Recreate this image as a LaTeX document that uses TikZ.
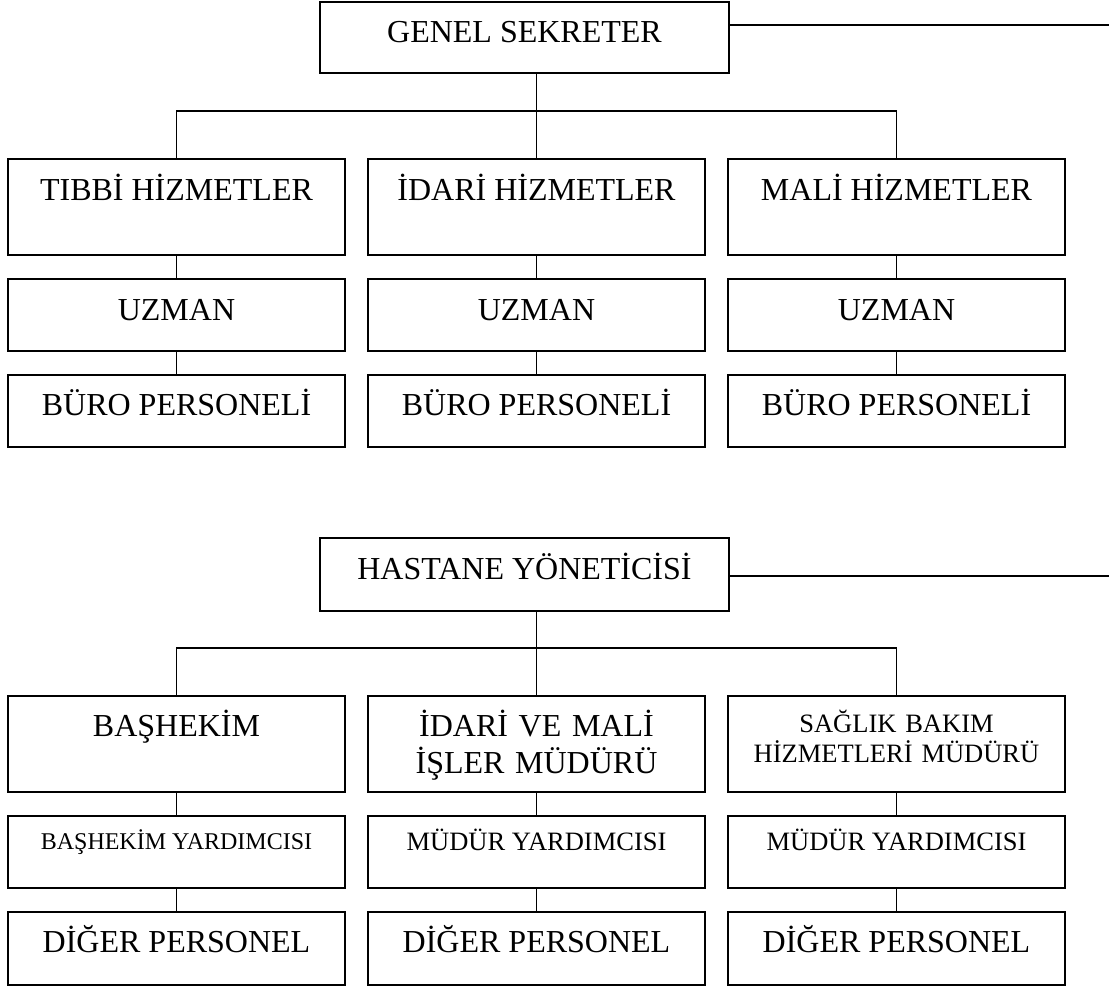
\documentclass[tikz,border=0pt]{standalone}
\usepackage{fontspec}
\setmainfont{Liberation Serif}
\begin{document}
\begin{tikzpicture}[x=1pt, y=-1pt,
  orgbox/.style={draw, line width=2pt, inner sep=0pt, minimum width=337pt},
  topbox/.style={draw, line width=2pt, inner sep=0pt, minimum width=409pt},
  link/.style={line width=1.6pt},
  big/.style={inner sep=0pt, anchor=base, font=\fontsize{32}{37}\selectfont},
  mid/.style={inner sep=0pt, anchor=base, font=\fontsize{26.5}{30}\selectfont},
  small/.style={inner sep=0pt, anchor=base, font=\fontsize{24}{28}\selectfont},
  two/.style={text width=335pt, align=center}]
\useasboundingbox (0,0) rectangle (1109,986);

% ---------- Genel Sekreter ----------
\node[topbox, minimum height=71pt] (gs) at (524.5,37.5) {};
\node[big] (gst) at (524.5,42) {GENEL SEKRETER};
\coordinate (gsR) at (1109,25);

\node[orgbox, minimum height=96pt] (a1) at (176.5,207) {};
\node[orgbox, minimum height=96pt] (a2) at (536.5,207) {};
\node[orgbox, minimum height=96pt] (a3) at (896.5,207) {};
\node[orgbox, minimum height=72pt] (b1) at (176.5,315) {};
\node[orgbox, minimum height=72pt] (b2) at (536.5,315) {};
\node[orgbox, minimum height=72pt] (b3) at (896.5,315) {};
\node[orgbox, minimum height=72pt] (c1) at (176.5,411) {};
\node[orgbox, minimum height=72pt] (c2) at (536.5,411) {};
\node[orgbox, minimum height=72pt] (c3) at (896.5,411) {};

\node[big] (a1t) at (176.5,200) {TIBBİ HİZMETLER};
\node[big] (a2t) at (536.5,200) {İDARİ HİZMETLER};
\node[big] (a3t) at (896.5,200) {MALİ HİZMETLER};
\node[big] (b1t) at (176.5,320) {UZMAN};
\node[big] (b2t) at (536.5,320) {UZMAN};
\node[big] (b3t) at (896.5,320) {UZMAN};
\node[big] (c1t) at (176.5,415) {BÜRO PERSONELİ};
\node[big] (c2t) at (536.5,415) {BÜRO PERSONELİ};
\node[big] (c3t) at (896.5,415) {BÜRO PERSONELİ};

\coordinate (gsbar) at (0,111);
\draw[line width=1.8pt] (gs.east |- gsR) -- (gsR);
\draw[link] (a2.north |- gs.south) -- (a2.north);
\draw[link] (a1.north) -- (a1.north |- gsbar) -- (a3.north |- gsbar) -- (a3.north);
\foreach \k in {1,2,3} {
  \draw[link] (a\k.south) -- (b\k.north);
  \draw[link] (b\k.south) -- (c\k.north);
}

% ---------- Hastane Yöneticisi ----------
\node[topbox, minimum height=73pt] (hy) at (524.5,574.5) {};
\node[big] (hyt) at (524.5,579) {HASTANE YÖNETİCİSİ};
\coordinate (hyR) at (1109,576);

\node[orgbox, minimum height=96pt] (d1) at (176.5,744) {};
\node[orgbox, minimum height=96pt] (d2) at (536.5,744) {};
\node[orgbox, minimum height=96pt] (d3) at (896.5,744) {};
\node[orgbox, minimum height=72pt] (e1) at (176.5,852) {};
\node[orgbox, minimum height=72pt] (e2) at (536.5,852) {};
\node[orgbox, minimum height=72pt] (e3) at (896.5,852) {};
\node[orgbox, minimum height=73pt] (f1) at (176.5,948.5) {};
\node[orgbox, minimum height=73pt] (f2) at (536.5,948.5) {};
\node[orgbox, minimum height=73pt] (f3) at (896.5,948.5) {};

\node[big] (d1t) at (176.5,736) {BAŞHEKİM};
\node[big, two] (d2t) at (536.5,736) {İDARİ VE MALİ\\İŞLER MÜDÜRÜ};
\node[mid, two] (d3t) at (896.5,732) {SAĞLIK BAKIM\\HİZMETLERİ MÜDÜRÜ};
\node[small] (e1t) at (176.5,849) {BAŞHEKİM YARDIMCISI};
\node[mid] (e2t) at (536.5,850) {MÜDÜR YARDIMCISI};
\node[mid] (e3t) at (896.5,850) {MÜDÜR YARDIMCISI};
\node[big] (f1t) at (176.5,952) {DİĞER PERSONEL};
\node[big] (f2t) at (536.5,952) {DİĞER PERSONEL};
\node[big] (f3t) at (896.5,952) {DİĞER PERSONEL};

\coordinate (hybar) at (0,648);
\draw[line width=1.8pt] (hy.east |- hyR) -- (hyR);
\draw[link] (d2.north |- hy.south) -- (d2.north);
\draw[link] (d1.north) -- (d1.north |- hybar) -- (d3.north |- hybar) -- (d3.north);
\foreach \k in {1,2,3} {
  \draw[link] (d\k.south) -- (e\k.north);
  \draw[link] (e\k.south) -- (f\k.north);
}
\end{tikzpicture}
\end{document}
